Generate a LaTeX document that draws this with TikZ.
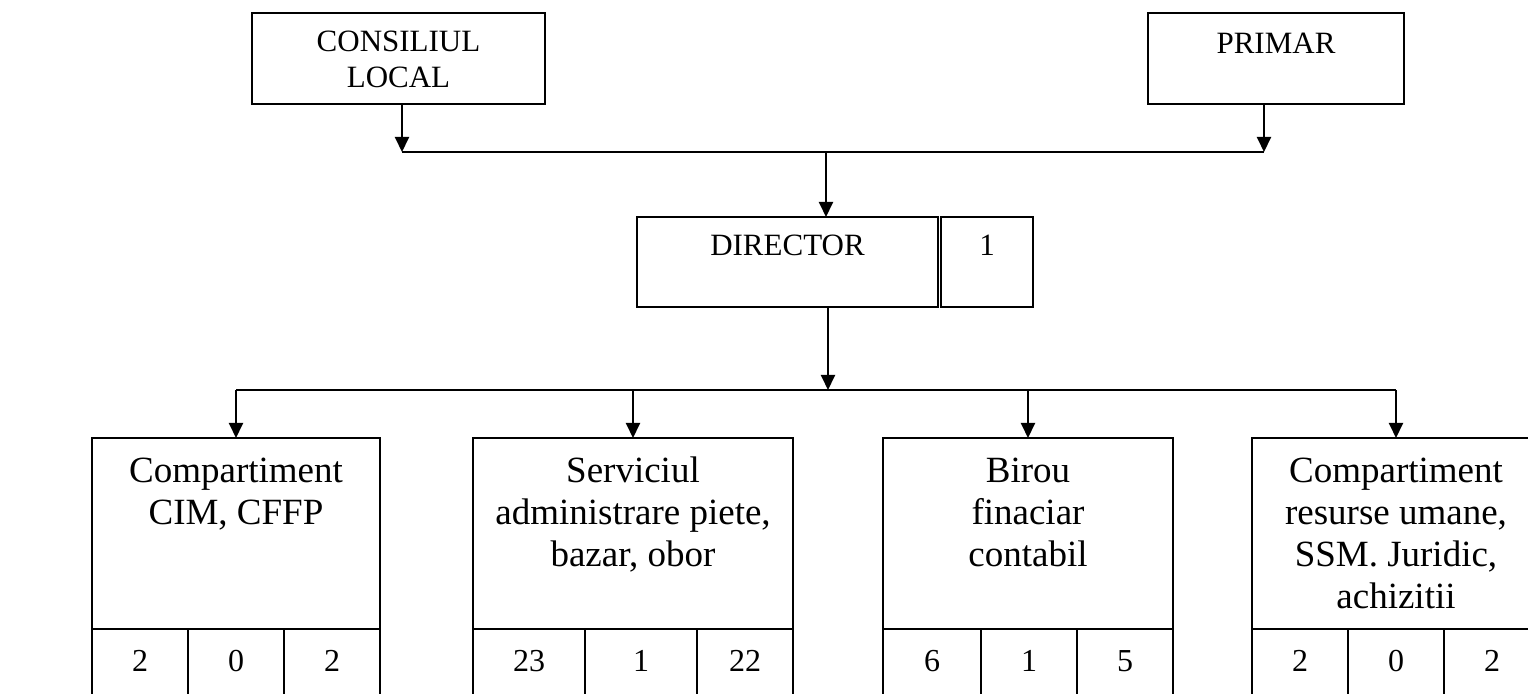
\documentclass[tikz,border=0pt]{standalone}
\usepackage{fontspec}
\setmainfont{Liberation Serif}
\usetikzlibrary{arrows.meta}

\begin{document}
\begin{tikzpicture}[x=0.5pt, y=-0.5pt,
	box/.style={draw, line width=1pt, inner sep=0pt, outer sep=0pt},
	lbl/.style={anchor=base, align=center, inner sep=0pt, font=\fontsize{15.5}{18}\selectfont},
	big/.style={anchor=base, align=center, inner sep=0pt, font=\fontsize{18.5}{21}\selectfont},
	num/.style={anchor=base, inner sep=0pt, font=\fontsize{16}{19}\selectfont},
	arr/.style={line width=1pt, -{Triangle[length=7.5pt,width=7pt]}},
	bus/.style={line width=0.8pt}]
			
			\useasboundingbox (0,0) rectangle (1528,694);
			\clip (0,0) rectangle (1528,694);
			
			% conducere (base = ultimul rand)
			\node[box, minimum width=146.5pt, minimum height=45.5pt] (cl) at (398.5,58.5) {};
			\node[lbl] (cltxt) at ([yshift=-37.5pt]cl.north) {CONSILIUL\\LOCAL};
			
			\node[box, minimum width=128pt, minimum height=45.5pt] (pr) at (1276,58.5) {};
			\node[lbl] (prtxt) at ([yshift=-20.5pt]pr.north) {PRIMAR};
			
			\node[box, minimum width=150.5pt, minimum height=45pt] (dir) at (787.5,262) {};
			\node[lbl] (dirtxt) at ([yshift=-19.5pt]dir.north) {DIRECTOR};
			
			\node[box, minimum width=46pt, minimum height=45pt] (dirnr) at (987,262) {};
			\node[lbl] (dirnrtxt) at ([yshift=-19.5pt]dirnr.north) {1};
			
			% compartimente
			\node[box, minimum width=144pt, minimum height=95.5pt] (b1) at (236,533.5) {};
			\node[big] (b1txt) at ([yshift=-43.5pt]b1.north) {Compartiment\\CIM, CFFP};
			
			\node[box, minimum width=160pt, minimum height=95.5pt] (b2) at (633,533.5) {};
			\node[big] (b2txt) at ([yshift=-64.5pt]b2.north) {Serviciul\\administrare piete,\\bazar, obor};
			
			\node[box, minimum width=145pt, minimum height=95.5pt] (b3) at (1028,533.5) {};
			\node[big] (b3txt) at ([yshift=-64.5pt]b3.north) {Birou\\finaciar\\contabil};
			
			\node[box, minimum width=144pt, minimum height=95.5pt] (b4) at (1396,533.5) {};
			\node[big] (b4txt) at ([yshift=-85.5pt]b4.north) {Compartiment\\resurse umane,\\SSM. Juridic,\\achizitii};
			
			% posturi
			\node[box, anchor=north west, minimum width=48pt, minimum height=65pt] (b1a) at (b1.south west) {};
			\node[box, anchor=north west, minimum width=48pt, minimum height=65pt] (b1b) at (b1a.north east) {};
			\node[box, anchor=north west, minimum width=48pt, minimum height=65pt] (b1c) at (b1b.north east) {};
			\node[box, anchor=north west, minimum width=56pt, minimum height=65pt] (b2a) at (b2.south west) {};
			\node[box, anchor=north west, minimum width=56pt, minimum height=65pt] (b2b) at (b2a.north east) {};
			\node[box, anchor=north west, minimum width=48pt, minimum height=65pt] (b2c) at (b2b.north east) {};
			\node[box, anchor=north west, minimum width=49pt, minimum height=65pt] (b3a) at (b3.south west) {};
			\node[box, anchor=north west, minimum width=48pt, minimum height=65pt] (b3b) at (b3a.north east) {};
			\node[box, anchor=north west, minimum width=48pt, minimum height=65pt] (b3c) at (b3b.north east) {};
			\node[box, anchor=north west, minimum width=48pt, minimum height=65pt] (b4a) at (b4.south west) {};
			\node[box, anchor=north west, minimum width=48pt, minimum height=65pt] (b4b) at (b4a.north east) {};
			\node[box, anchor=north west, minimum width=48pt, minimum height=65pt] (b4c) at (b4b.north east) {};
			
			\node[num] (n1a) at ([yshift=-21.5pt]b1a.north) {2};
			\node[num] (n1b) at ([yshift=-21.5pt]b1b.north) {0};
			\node[num] (n1c) at ([yshift=-21.5pt]b1c.north) {2};
			\node[num] (n2a) at ([yshift=-21.5pt]b2a.north) {23};
			\node[num] (n2b) at ([yshift=-21.5pt]b2b.north) {1};
			\node[num] (n2c) at ([yshift=-21.5pt]b2c.north) {22};
			\node[num] (n3a) at ([yshift=-21.5pt]b3a.north) {6};
			\node[num] (n3b) at ([yshift=-21.5pt]b3b.north) {1};
			\node[num] (n3c) at ([yshift=-21.5pt]b3c.north) {5};
			\node[num] (n4a) at ([yshift=-21.5pt]b4a.north) {2};
			\node[num] (n4b) at ([yshift=-21.5pt]b4b.north) {0};
			\node[num] (n4c) at ([yshift=-21.5pt]b4c.north) {2};
			
			% legaturi
			\coordinate (jl) at (402,152);
			\coordinate (jr) at (1264,152);
			\coordinate (jd) at (826,152);
			\coordinate (kd) at (828,390);
			
			\draw[bus] (jl) -- (jr);
			\draw[arr] (cl.south -| jl) -- (jl);
			\draw[arr] (pr.south -| jr) -- (jr);
			\draw[arr] (jd) -- (jd |- dir.north);
			\draw[arr] (dir.south -| kd) -- (kd);
			
			\draw[bus] (b1.north |- kd) -- (b4.north |- kd);
			\draw[arr] (b1.north |- kd) -- (b1.north);
			\draw[arr] (b2.north |- kd) -- (b2.north);
			\draw[arr] (b3.north |- kd) -- (b3.north);
			\draw[arr] (b4.north |- kd) -- (b4.north);
			
\end{tikzpicture}
\end{document}
